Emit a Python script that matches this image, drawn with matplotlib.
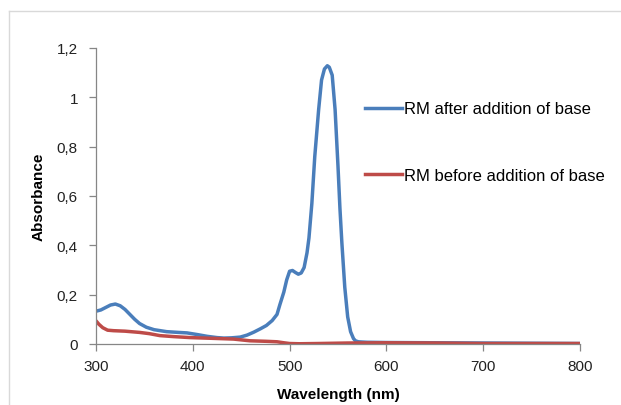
import matplotlib
matplotlib.use('Agg')
import matplotlib.pyplot as plt
from matplotlib.ticker import FuncFormatter
from matplotlib.lines import Line2D

plt.rcParams['font.family'] = ['Liberation Sans', 'DejaVu Sans']

# Spectrum after base addition (wavelength nm, absorbance)
wl_after = [300, 305, 310, 315, 320, 325, 330, 335, 340, 345, 352, 360, 373, 385,
            394, 405, 415, 425, 432, 440, 449, 456, 463, 470, 476, 482, 487, 490,
            494, 497, 500, 503, 506, 509, 512, 515, 518, 520, 523, 526, 530, 533,
            536, 539, 541, 544, 547, 550, 552, 554, 557, 560, 563, 566, 568, 571,
            575, 580, 600, 650, 700, 750, 800]
abs_after = [0.133, 0.138, 0.148, 0.158, 0.162, 0.155, 0.14, 0.12, 0.10, 0.083,
             0.068, 0.058, 0.05, 0.047, 0.045, 0.038, 0.031, 0.026, 0.024, 0.025,
             0.028, 0.036, 0.048, 0.062, 0.075, 0.095, 0.12, 0.16, 0.21, 0.26, 0.295,
             0.298, 0.29, 0.283, 0.288, 0.31, 0.37, 0.43, 0.57, 0.76, 0.95, 1.07,
             1.115, 1.128, 1.122, 1.09, 0.95, 0.72, 0.55, 0.41, 0.23, 0.11, 0.05, 0.022,
             0.013, 0.009, 0.008, 0.007, 0.006, 0.005, 0.004, 0.003, 0.002]

# Spectrum before base addition
wl_before = [300, 303, 307, 312, 318, 330, 345, 355, 366, 380, 397, 420, 442, 459,
             475, 487, 494, 500, 510, 530, 560, 600, 650, 700, 800]
abs_before = [0.094, 0.08, 0.066, 0.056, 0.054, 0.052, 0.047, 0.042, 0.034, 0.03,
              0.026, 0.023, 0.02, 0.013, 0.011, 0.009, 0.005, 0.002, 0.001, 0.002,
              0.004, 0.005, 0.004, 0.002, 0.002]

labels = ['RM after addition of base', 'RM before addition of base']
colors = ['#4A7EBB', '#BE4B48']

fig = plt.figure(figsize=(6.21, 4.06), dpi=100)
ax = fig.add_axes([96 / 621, 61 / 406, 484 / 621, 296 / 406])

ax.plot(wl_after, abs_after, color=colors[0], lw=2.5, solid_capstyle='round',
        solid_joinstyle='round')
ax.plot(wl_before, abs_before, color=colors[1], lw=2.5, solid_capstyle='round',
        solid_joinstyle='round')

ax.set_xlim(300, 800)
ax.set_ylim(0, 1.2)
ax.set_xticks([300, 400, 500, 600, 700, 800])
ax.set_yticks([0, 0.2, 0.4, 0.6, 0.8, 1.0, 1.2])
ax.yaxis.set_major_formatter(FuncFormatter(lambda v, p: ('%g' % round(v, 1)).replace('.', ',')))

for s in ['top', 'right']:
    ax.spines[s].set_visible(False)
for s in ['left', 'bottom']:
    ax.spines[s].set_color('#868686')
    ax.spines[s].set_linewidth(0.9)
ax.tick_params(colors='#868686', length=5, width=0.9, labelsize=11, labelcolor='#222222')
ax.tick_params(axis='x', pad=6)
ax.tick_params(axis='y', pad=8)

ax.set_xlabel('Wavelength (nm)', fontsize=11, fontweight='bold', labelpad=10)
ax.set_ylabel('Absorbance', fontsize=11, fontweight='bold', labelpad=8)

# legend drawn to the right like the original
handles = [Line2D([], [], color=c, lw=2.5) for c in colors]
ax.legend(handles, labels, loc='upper left', bbox_to_anchor=(0.542, 0.842),
          frameon=False, fontsize=12, handlelength=2.2, handletextpad=0.15,
          labelspacing=3.1, borderaxespad=0)

# chart border (cropped)
fig.add_artist(Line2D([9 / 621, 1], [1 - 12 / 406, 1 - 12 / 406], color='#D9D9D9', lw=1))
fig.add_artist(Line2D([9 / 621, 9 / 621], [0, 1 - 12 / 406], color='#D9D9D9', lw=1))

fig.savefig('out.png', dpi=100)
